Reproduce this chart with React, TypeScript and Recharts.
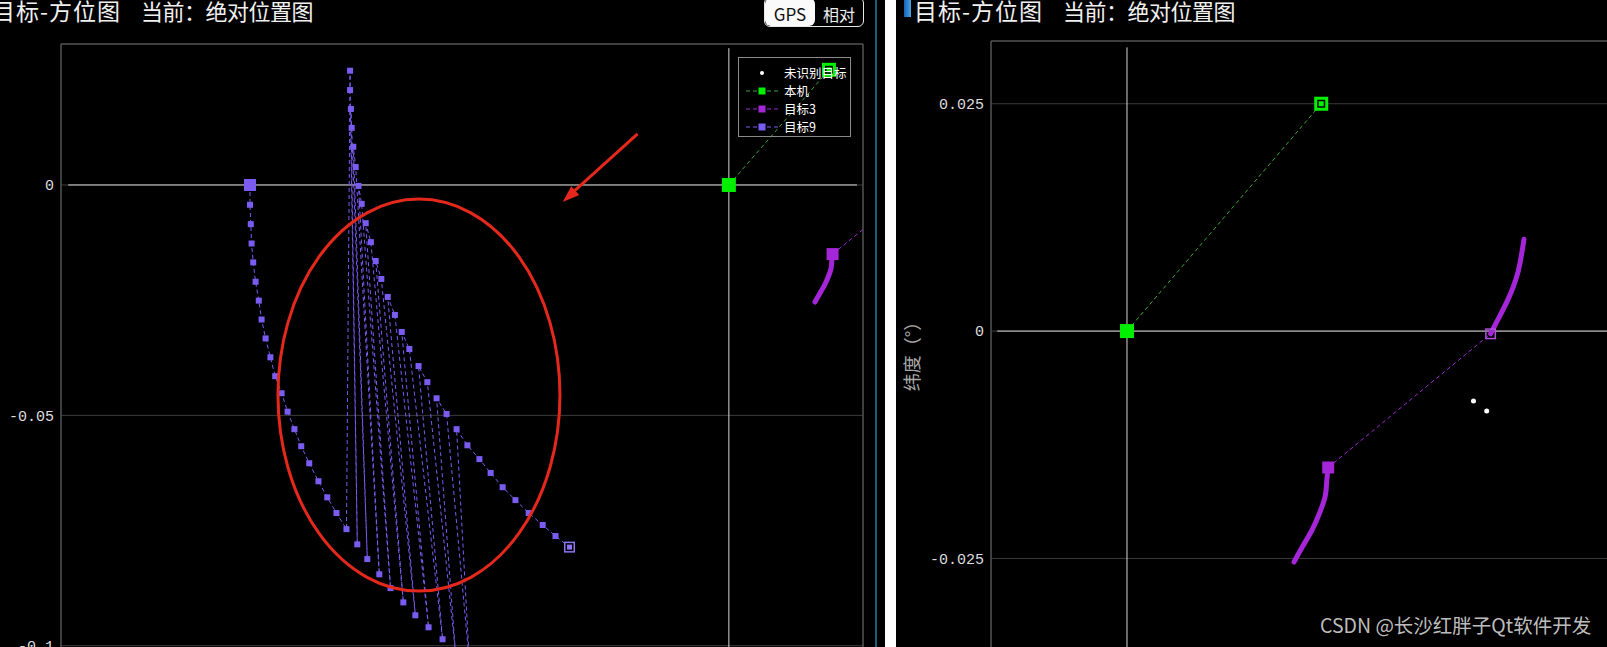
import React from "react";
import {
  ComposedChart,
  Line,
  Scatter,
  XAxis,
  YAxis,
  CartesianGrid,
  ReferenceLine,
  ReferenceDot,
} from "recharts";

// positions in degrees (lon offset, lat offset)
const SELF: [number, number][] = [[0, 0], [0.025, 0.025]];
const UNKNOWN: [number, number][] = [[0.0446, -0.0077], [0.0463, -0.0088]];

const T3_NEAR: [number, number][] = [
  [0.0259, -0.015], [0.0257, -0.0166], [0.0255, -0.0182], [0.0247, -0.0202],
  [0.0238, -0.0219], [0.0226, -0.0237], [0.0215, -0.0254],
];
const T3_FAR: [number, number][] = [
  [0.0468, -0.0003], [0.0477, 0.0012], [0.049, 0.0034], [0.0503, 0.0064], [0.0511, 0.0101],
];

// target 9: real track and the jumped (ghost) copy of it
const T9_TRACK: [number, number][] = [
  [-0.1196, 0], [-0.1196, -0.0043], [-0.1194, -0.0085], [-0.1192, -0.0127],
  [-0.1188, -0.0168], [-0.1182, -0.021], [-0.1174, -0.0251], [-0.1167, -0.0292],
  [-0.1157, -0.0333], [-0.1145, -0.0374], [-0.1133, -0.0415], [-0.1117, -0.0452],
  [-0.1102, -0.0492], [-0.1085, -0.053], [-0.1068, -0.0567], [-0.1048, -0.0604],
  [-0.1025, -0.0643], [-0.1003, -0.0678], [-0.098, -0.0712], [-0.0955, -0.0747],
  [-0.0928, -0.078], [-0.0903, -0.0812], [-0.0873, -0.0845], [-0.0845, -0.0875],
  [-0.0813, -0.0906], [-0.0783, -0.0934], [-0.075, -0.096], [-0.0715, -0.0986],
  [-0.0683, -0.1012], [-0.0648, -0.1036],
];
const T9_GHOST: [number, number][] = [
  [-0.0946, 0.0248], [-0.0946, 0.0206], [-0.0944, 0.0165], [-0.0942, 0.0124],
  [-0.0938, 0.0083], [-0.0932, 0.0039], [-0.0925, -0.0002], [-0.0917, -0.0041],
  [-0.0907, -0.0083], [-0.0894, -0.0124], [-0.0882, -0.0165], [-0.0868, -0.0204],
  [-0.0852, -0.0243], [-0.0834, -0.0282], [-0.0817, -0.0319], [-0.0798, -0.0356],
  [-0.0775, -0.0393], [-0.0753, -0.0428], [-0.073, -0.0463], [-0.0705, -0.0497],
  [-0.068, -0.053], [-0.0653, -0.0565], [-0.0623, -0.0595], [-0.0595, -0.0625],
  [-0.0565, -0.0656], [-0.0533, -0.0684], [-0.05, -0.0712], [-0.0465, -0.0738],
  [-0.0433, -0.0762], [-0.0398, -0.0786],
];
const T9_JUMP_FROM = 19; // track index where the ghost jumps start

const LEFT_X_TICKS = [-0.15, -0.125, -0.1, -0.075, -0.05, -0.025, 0, 0.025];
const LEFT_Y_TICKS = [-0.1, -0.05, 0];
const LEFT_R_TICKS = [0.025, -0.025, -0.075];
const RIGHT_X_TICKS = [0, 0.02, 0.04, 0.06];
const RIGHT_Y_TICKS = [-0.025, 0, 0.025];

const GREEN = "#00f000";
const GREEN_LINE = "#35a835";
const PURPLE = "#a426d8";
const VIOLET = "#7b5cf2";
const GRID = "#3c3c3c";
const BORDER = "#5e5e5e";
const AXIS0 = "#d6d6d6";
const CJK = "'Noto Sans CJK SC', sans-serif";
const MONO = "'Liberation Mono', monospace";

const LEGEND = [
  { name: "未识别目标", color: "#ffffff", kind: "dot" },
  { name: "本机", color: GREEN, line: GREEN_LINE, kind: "line" },
  { name: "目标3", color: PURPLE, line: PURPLE, kind: "line" },
  { name: "目标9", color: VIOLET, line: VIOLET, kind: "line" },
];

const pts = (a: [number, number][]) => a.map(([x, y]) => ({ x, y }));

// zig-zag order: track up to the jump, then track / ghost alternating
function t9Sequence() {
  const out: [number, number][] = T9_TRACK.slice(0, T9_JUMP_FROM + 1);
  out.push(T9_GHOST[0]);
  let g = 1;
  for (let i = T9_JUMP_FROM + 1; i < T9_TRACK.length; i++) {
    out.push(T9_GHOST[g++]);
    out.push(T9_TRACK[i]);
    out.push(T9_GHOST[g++]);
  }
  while (g < T9_GHOST.length) out.push(T9_GHOST[g++]);
  return pts(out);
}
const T9_LINE = t9Sequence();

const box = (p: any, s: number, fill: string) => (
  <rect key={`b${p.index}`} x={p.cx - s / 2} y={p.cy - s / 2} width={s} height={s} fill={fill} />
);
const hollow = (p: any, s: number, color: string, sw: number, inner: number, bg: string) => (
  <g key={`h${p.index}`}>
    <rect x={p.cx - s / 2 + sw / 2} y={p.cy - s / 2 + sw / 2} width={s - sw} height={s - sw}
      fill={bg} stroke={color} strokeWidth={sw} />
    {inner > 0 && <rect x={p.cx - inner / 2} y={p.cy - inner / 2} width={inner} height={inner} fill={color} />}
  </g>
);

const selfDot = (p: any) => (p.index === 0 ? box(p, 14, GREEN) : hollow(p, 14, GREEN, 3, 5, "#000"));
const t3NearDot = (p: any) => (p.index === 0 ? box(p, 12, PURPLE) : <g key={`n${p.index}`} />);
const t3FarDot = (p: any) => (p.index === 0 ? hollow(p, 11, "#b04fe0", 1.5, 0, "none") : <g key={`f${p.index}`} />);
const t9Dot = (p: any) => {
  if (p.index === 0) return box(p, 12, VIOLET);
  if (p.index === T9_LINE.length - 1) return hollow(p, 11, "#8c74f4", 1.5, 5, "#000");
  return box(p, 6, VIOLET);
};

const ARROW_DIR = [-0.741, 0.672];
const arrowHead = (p: any) => {
  const [dx, dy] = ARROW_DIR;
  const bx = p.cx - dx * 17, by = p.cy - dy * 17;
  const px = -dy * 6, py = dx * 6;
  return <polygon points={`${p.cx},${p.cy} ${bx + px},${by + py} ${bx - px},${by - py}`} fill="#e5281c" />;
};

type PlotProps = {
  width: number; height: number; top: number; yWidth: number; right: number;
  xDomain: [number, number]; yDomain: [number, number];
  xTicks: number[]; yTicks: number[]; rTicks?: number[];
  yLabel?: string; zeroX: [number, number]; zeroYTop: number; notes?: boolean;
};

const fmt = (v: number) => (v === 0 ? "0" : String(v));

function Plot(props: PlotProps) {
  const { xDomain, yDomain } = props;
  return (
    <ComposedChart width={props.width} height={props.height}
      margin={{ top: props.top, right: props.right, bottom: 0, left: 0 }}>
      <CartesianGrid stroke={GRID} />
      <XAxis type="number" dataKey="x" domain={xDomain} ticks={props.xTicks} allowDataOverflow
        height={30} axisLine={false} tickLine={false} tick={false} />
      <YAxis type="number" dataKey="y" domain={yDomain} ticks={props.yTicks} allowDataOverflow
        width={props.yWidth} axisLine={{ stroke: BORDER }} tickLine={false} tickSize={0} tickMargin={7}
        tick={{ fill: "#dedede", fontSize: 15, fontFamily: MONO }} tickFormatter={fmt}
        label={props.yLabel ? {
          value: props.yLabel, angle: -90, position: "insideLeft", offset: 17,
          style: { textAnchor: "middle", fill: "#a8a8a8", fontSize: 18, fontFamily: CJK },
        } : undefined} />
      {props.rTicks && (
        <YAxis yAxisId="r" orientation="right" mirror type="number" domain={yDomain} ticks={props.rTicks}
          allowDataOverflow width={1} axisLine={{ stroke: BORDER }} tickLine={{ stroke: BORDER }}
          tickSize={5} tick={false} />
      )}
      <ReferenceLine y={yDomain[1]} stroke={BORDER} ifOverflow="visible" />
      <ReferenceLine segment={[{ x: props.zeroX[0], y: 0 }, { x: props.zeroX[1], y: 0 }]} stroke={AXIS0} />
      <ReferenceLine segment={[{ x: 0, y: props.zeroYTop }, { x: 0, y: yDomain[0] }]} stroke={AXIS0} />

      <Scatter data={pts(UNKNOWN)} dataKey="y" fill="#ffffff" isAnimationActive={false}
        shape={(p: any) => <circle cx={p.cx} cy={p.cy} r={2.5} fill="#fff" />} />
      <Line data={T9_LINE} dataKey="y" stroke={VIOLET} strokeWidth={1} strokeDasharray="4 3"
        dot={t9Dot} activeDot={false} isAnimationActive={false} />
      <Line data={pts([T3_NEAR[0], T3_FAR[0]])} dataKey="y" stroke={PURPLE} strokeWidth={1}
        strokeDasharray="4 3" dot={false} activeDot={false} isAnimationActive={false} />
      <Line data={pts(T3_NEAR)} dataKey="y" type="natural" stroke={PURPLE} strokeWidth={5} strokeLinecap="round"
        dot={t3NearDot} activeDot={false} isAnimationActive={false} />
      <Line data={pts(T3_FAR)} dataKey="y" type="natural" stroke={PURPLE} strokeWidth={5} strokeLinecap="round"
        dot={t3FarDot} activeDot={false} isAnimationActive={false} />
      <Line data={pts(SELF)} dataKey="y" stroke={GREEN_LINE} strokeWidth={1} strokeDasharray="4 3"
        dot={selfDot} activeDot={false} isAnimationActive={false} />

      {props.notes && (
        <ReferenceDot x={-0.0774} y={-0.0456} ifOverflow="visible"
          shape={(p: any) => <ellipse cx={p.cx} cy={p.cy} rx={141} ry={196} fill="none" stroke="#e5281c" strokeWidth={3} />} />
      )}
      {props.notes && (
        <ReferenceLine segment={[{ x: -0.0228, y: 0.0111 }, { x: -0.0405, y: -0.0028 }]} stroke="#e5281c" strokeWidth={3} />
      )}
      {props.notes && <ReferenceDot x={-0.0415} y={-0.0037} ifOverflow="visible" shape={arrowHead} />}
    </ComposedChart>
  );
}

function Title({ left }: { left: number }) {
  const s: React.CSSProperties = { position: "absolute", top: -3, lineHeight: "26px", color: "#f0f0f0", fontFamily: CJK, whiteSpace: "nowrap" };
  return (
    <>
      <div style={{ ...s, left, fontSize: 23, letterSpacing: 1 }}>目标-方位图</div>
      <div style={{ ...s, left: left + 149, fontSize: 22, letterSpacing: -0.5 }}>当前：绝对位置图</div>
    </>
  );
}

function LegendBox() {
  return (
    <div style={{ position: "absolute", left: 738, top: 57, width: 113, height: 80, border: "1px solid #8a8a8a", paddingTop: 6, boxSizing: "border-box" }}>
      {LEGEND.map((e) => (
        <div key={e.name} style={{ display: "flex", alignItems: "center", height: 18 }}>
          <svg width={45} height={12} style={{ flex: "none" }}>
            {e.kind === "line" && <line x1={7} x2={39} y1={6} y2={6} stroke={e.line} strokeDasharray="4 3" />}
            {e.kind === "line" ? <rect x={19.5} y={2.5} width={7} height={7} fill={e.color} /> : <circle cx={23} cy={6} r={2} fill={e.color} />}
          </svg>
          <span style={{ fontSize: 12.5, color: "#fff", fontFamily: CJK, lineHeight: "18px" }}>{e.name}</span>
        </div>
      ))}
    </div>
  );
}

export default function App() {
  return (
    <div style={{ position: "fixed", left: 0, top: 0, width: 1607, height: 647, overflow: "hidden", background: "#000" }}>
      <Title left={-8} />
      <div style={{ position: "absolute", left: 764, top: -3, width: 98, height: 28, border: "1px solid #e8e8e8", borderRadius: 6, display: "flex", overflow: "hidden", fontFamily: CJK }}>
        <div style={{ width: 50, background: "#fafafa", color: "#111", fontSize: 17, display: "flex", alignItems: "center", justifyContent: "center", paddingTop: 3, borderRadius: 6 }}>GPS</div>
        <div style={{ flex: 1, color: "#eee", fontSize: 16, display: "flex", alignItems: "center", justifyContent: "center", paddingTop: 3 }}>相对</div>
      </div>

      <div style={{ position: "absolute", left: 0, top: 0 }}>
        <Plot width={870} height={731} top={44} yWidth={61} right={7}
          xDomain={[-0.1668, 0.0335]} yDomain={[-0.112, 0.0306]}
          xTicks={LEFT_X_TICKS} yTicks={LEFT_Y_TICKS} rTicks={LEFT_R_TICKS}
          zeroX={[-0.165, 0.032]} zeroYTop={0.0297} notes />
      </div>
      <LegendBox />

      <div style={{ position: "absolute", left: 875, top: 0, width: 2, height: 647, background: "#1d5d74" }} />
      <div style={{ position: "absolute", left: 885, top: 0, width: 11, height: 647, background: "#ffffff" }} />

      <div style={{ position: "absolute", left: 904, top: 0, width: 7, height: 17, background: "linear-gradient(to right, #1560b8, #4aa6e2)" }} />
      <Title left={914} />
      <div style={{ position: "absolute", left: 896, top: 0 }}>
        <Plot width={741} height={693} top={41} yWidth={95} right={5}
          xDomain={[-0.0175, 0.065]} yDomain={[-0.0365, 0.0319]}
          xTicks={RIGHT_X_TICKS} yTicks={RIGHT_Y_TICKS} yLabel="纬度（°）"
          zeroX={[-0.0167, 0.065]} zeroYTop={0.0312} />
      </div>

      <div style={{ position: "absolute", left: 1320, top: 612, fontSize: 19.5, lineHeight: "26px", color: "rgba(215,215,215,0.9)", fontFamily: CJK, whiteSpace: "nowrap" }}>
        CSDN @长沙红胖子Qt软件开发
      </div>
    </div>
  );
}
